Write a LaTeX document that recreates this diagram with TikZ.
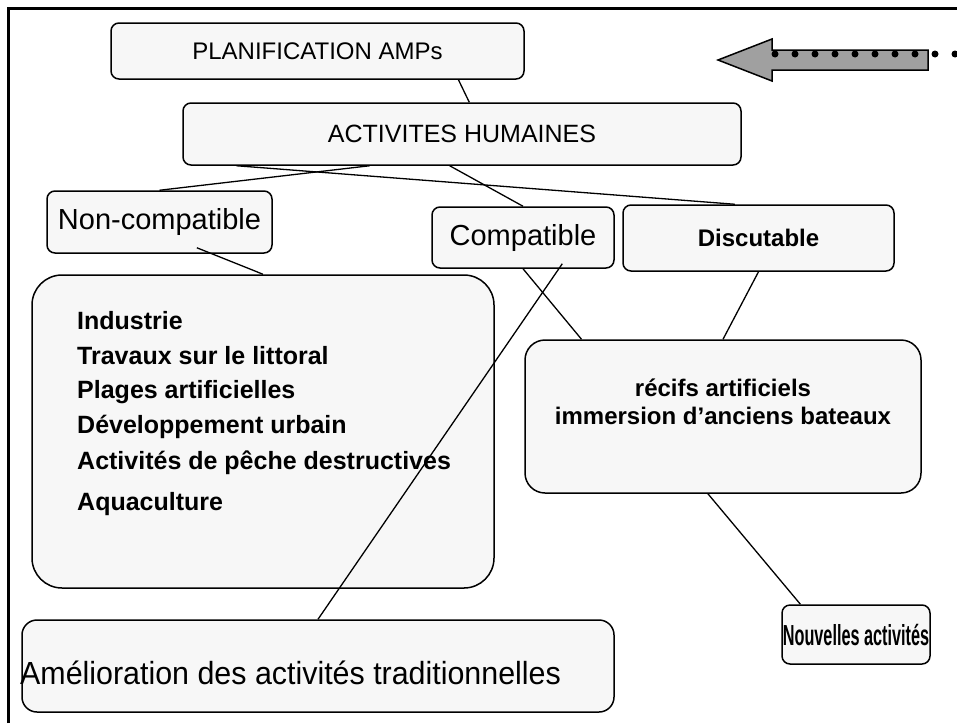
\documentclass[tikz,border=0pt]{standalone}
\usepackage{fontspec}
\setmainfont{Liberation Sans}
\newfontfamily\narrowfont[FakeStretch=0.95]{Liberation Sans}
\newfontfamily\tightfont[FakeStretch=0.56]{Liberation Sans}
\usetikzlibrary{calc}

\definecolor{boxfill}{RGB}{247,247,247}
\definecolor{arrowgrey}{RGB}{160,160,160}

\tikzset{
  box/.style={draw, fill=boxfill, line width=1.5pt, rounded corners=8pt, inner sep=0pt},
  link/.style={line width=1.3pt},
  item/.style={anchor=west, inner sep=0pt, font=\fontsize{25}{28}\selectfont\bfseries},
}

\begin{document}
\begin{tikzpicture}[x=1pt,y=-1pt]
\useasboundingbox (0,0) rectangle (957,723);
% frame
\draw[line width=3pt] (8,723) -- (8,8) -- (957,8);

% boxes
\node[box, minimum width=413pt, minimum height=56pt, font=\fontsize{24}{27}\selectfont] (plan) at (317.5,51) {PLANIFICATION AMPs};
\node[box, minimum width=558pt, minimum height=62pt, font=\fontsize{25}{28}\selectfont] (act) at (462,134) {ACTIVITES HUMAINES};
\node[box, minimum width=225pt, minimum height=62pt, font=\fontsize{29}{31}\selectfont] (noncomp) at (159.5,222) {Non-compatible};
\node[box, minimum width=182pt, minimum height=61pt, font=\fontsize{29}{31}\selectfont] (comp) at (523,237.5) {Compatible};
\node[box, minimum width=271pt, minimum height=66pt, font=\fontsize{24}{28}\selectfont\bfseries] (disc) at (758.5,238) {Discutable};
\node[box, rounded corners=30pt, minimum width=462pt, minimum height=313pt] (nclist) at (263,431.5) {};
\node[box, rounded corners=20pt, minimum width=396pt, minimum height=153pt] (recifs) at (723,416.5) {};
\node[box, rounded corners=15pt, minimum width=592pt, minimum height=92pt] (amelio) at (318,666) {};
\node[box, minimum width=148pt, minimum height=59pt, font=\tightfont\fontsize{29}{31}\selectfont\bfseries] (nouv) at (856,634.5) {Nouvelles activit\'es};

% texts
\node[align=center, inner sep=0pt, font=\fontsize{24}{28}\selectfont\bfseries] (recifstxt) at (723,402) {r\'ecifs artificiels\\immersion d'anciens bateaux};
\node[item] (indus) at (77,321) {Industrie};
\node[item] (trav) at (77,356) {Travaux sur le littoral};
\node[item] (plages) at (77,392) {Plages artificielles};
\node[item] (devel) at (77,427) {D\'eveloppement urbain};
\node[item] (peche) at (77,463) {Activit\'es de p\^eche destructives};
\node[item] (aqua) at (77,504) {Aquaculture};
\node[anchor=west, inner sep=0pt, font=\narrowfont\fontsize{32}{34}\selectfont] (ameliotxt) at (20,673) {Am\'elioration des activit\'es traditionnelles};

% links
\draw[link] ($(plan.south west)!0.84!(plan.south east)$) -- ($(act.north west)!0.513!(act.north east)$);
\draw[link] (noncomp.north) -- ($(act.south west)!0.335!(act.south east)$);
\draw[link] ($(act.south west)!0.097!(act.south east)$) -- ($(disc.north west)!0.413!(disc.north east)$);
\draw[link] ($(act.south west)!0.478!(act.south east)$) -- (comp.north);
\draw[link] ($(noncomp.south west)!0.665!(noncomp.south east)+(0,-6)$) -- (nclist.north);
\draw[link] (comp.south) -- ($(recifs.north west)!0.144!(recifs.north east)$);
\draw[link] ($(comp.south west)!0.714!(comp.south east)+(0,-5)$) -- (amelio.north);
\draw[link] (disc.south) -- (recifs.north);
\draw[link] ($(recifs.south west)!0.462!(recifs.south east)$) -- ($(nouv.north west)!0.128!(nouv.north east)$);

% block arrow
\draw[fill=arrowgrey, line width=1.5pt] (718,60) -- (772,39) -- (772,50) -- (928,50) -- (928,70) -- (772,70) -- (772,81) -- cycle;
\foreach \x in {775,795,...,955}
  \fill (\x,54) circle (3.5);
\end{tikzpicture}
\end{document}
